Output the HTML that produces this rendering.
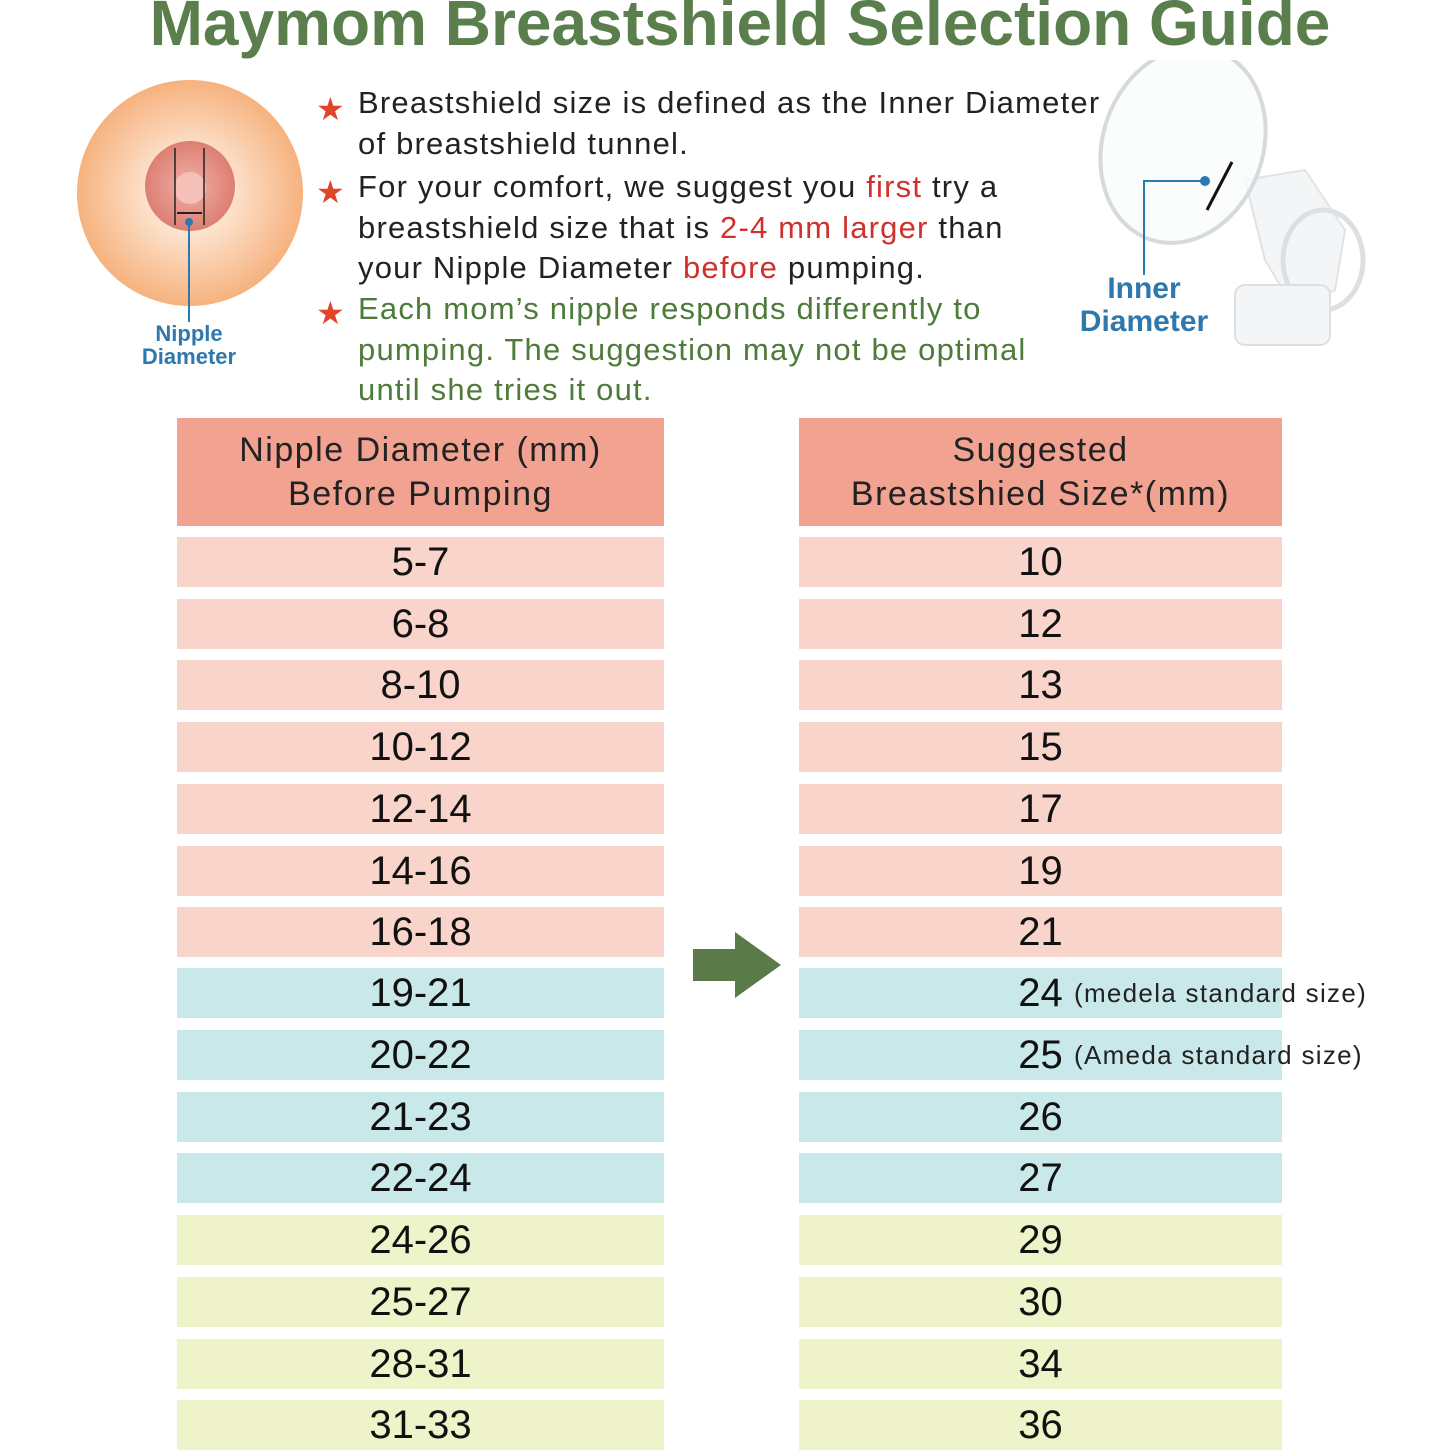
<!DOCTYPE html>
<html><head><style>
body{margin:0;width:1451px;height:1451px;background:#fff;position:relative;overflow:hidden;font-family:"Liberation Sans",sans-serif}
.a{position:absolute;white-space:nowrap}
.t{position:absolute;left:358px;font-size:31px;letter-spacing:1.2px;color:#222;line-height:40.5px;white-space:nowrap}
.r{color:#d0312d}.g{color:#4e7a3a}
.st{position:absolute;left:316px;color:#e0452a;font-size:32px}
.row{position:absolute;height:50px;display:flex;align-items:center;justify-content:center;font-size:40px;color:#111}
.L{left:177px;width:487px}.R{left:799px;width:483px}
.p{background:#f8d4ca}.b{background:#c9e8ea}.y{background:#eff3c9}
.h{position:absolute;top:418px;height:108px;background:#f2a291;font-size:34px;color:#222;text-align:center;line-height:44px;display:flex;align-items:center;justify-content:center;letter-spacing:1.5px}
.n{position:absolute;font-size:26px;color:#222;letter-spacing:1.3px}
</style></head><body>
<div class="a" style="left:0;width:1480px;text-align:center;top:-14px;font-size:64px;font-weight:bold;color:#5a7e4c">Maymom Breastshield Selection Guide</div>

<svg class="a" style="left:0;top:60px" width="320" height="330">
<defs><radialGradient id="sk"><stop offset="0.3" stop-color="#fde8d6"/><stop offset="1" stop-color="#f6b27e"/></radialGradient>
<radialGradient id="ar"><stop offset="0" stop-color="#f2b0a8"/><stop offset="1" stop-color="#dc7f72"/></radialGradient></defs>
<circle cx="190" cy="133" r="113" fill="url(#sk)"/>
<circle cx="190" cy="126" r="45" fill="url(#ar)"/>
<circle cx="190" cy="128" r="16" fill="#f5c0b8"/>
<line x1="175" y1="88" x2="175" y2="165" stroke="#222" stroke-width="1.5"/>
<line x1="204" y1="88" x2="204" y2="165" stroke="#222" stroke-width="1.5"/>
<line x1="177" y1="153" x2="202" y2="153" stroke="#222" stroke-width="2"/>
<circle cx="189" cy="162" r="4" fill="#2a7ab0"/>
<line x1="189" y1="162" x2="189" y2="262" stroke="#2a7ab0" stroke-width="2"/>
</svg>
<div class="a" style="left:137px;top:322px;width:104px;text-align:center;font-size:22px;font-weight:bold;color:#2f78ad;line-height:23px">Nipple<br>Diameter</div>

<div class="st" style="top:90px">★</div>
<div class="st" style="top:173px">★</div>
<div class="st" style="top:294px">★</div>
<div class="t" style="top:83px">Breastshield size is defined as the Inner Diameter<br>of breastshield tunnel.</div>
<div class="t" style="top:167px">For your comfort, we suggest you <span class="r">first</span> try a<br>breastshield size that is <span class="r">2-4 mm larger</span> than<br>your Nipple Diameter <span class="r">before</span> pumping.</div>
<div class="t g" style="top:289px">Each mom’s nipple responds differently to<br>pumping. The suggestion may not be optimal<br>until she tries it out.</div>

<svg class="a" style="left:1095px;top:60px" width="290" height="300">
<path d="M150 120 L210 110 L250 170 L240 230 L200 250 L170 200Z" fill="#f4f5f6" stroke="#e0e3e5" stroke-width="2"/>
<ellipse cx="228" cy="200" rx="40" ry="50" fill="none" stroke="#dde0e3" stroke-width="5"/>
<rect x="140" y="225" width="95" height="60" rx="10" fill="#f4f5f6" stroke="#dde0e3" stroke-width="2"/>
<ellipse cx="88" cy="85" rx="80" ry="100" transform="rotate(20 88 85)" fill="#fafbfb" fill-opacity="0.8" stroke="#d6dadd" stroke-width="4"/>
<line x1="112" y1="150" x2="137" y2="102" stroke="#111" stroke-width="3"/>
<circle cx="110" cy="121" r="5" fill="#2a7ab0"/>
<polyline points="110,121 49,121 49,215" fill="none" stroke="#2a7ab0" stroke-width="2"/>
</svg>
<div class="a" style="left:1074px;top:272px;width:140px;text-align:center;font-size:30px;font-weight:bold;color:#2f78ad;line-height:33px">Inner<br>Diameter</div>

<div class="h" style="left:177px;width:487px">Nipple Diameter (mm)<br>Before Pumping</div>
<div class="h" style="left:799px;width:483px">Suggested<br>Breastshied Size*(mm)</div>

<div class="row L p" style="top:537px">5-7</div><div class="row R p" style="top:537px">10</div>
<div class="row L p" style="top:599px">6-8</div><div class="row R p" style="top:599px">12</div>
<div class="row L p" style="top:660px">8-10</div><div class="row R p" style="top:660px">13</div>
<div class="row L p" style="top:722px">10-12</div><div class="row R p" style="top:722px">15</div>
<div class="row L p" style="top:784px">12-14</div><div class="row R p" style="top:784px">17</div>
<div class="row L p" style="top:846px">14-16</div><div class="row R p" style="top:846px">19</div>
<div class="row L p" style="top:907px">16-18</div><div class="row R p" style="top:907px">21</div>
<div class="row L b" style="top:968px">19-21</div><div class="row R b" style="top:968px">24</div>
<div class="row L b" style="top:1030px">20-22</div><div class="row R b" style="top:1030px">25</div>
<div class="row L b" style="top:1092px">21-23</div><div class="row R b" style="top:1092px">26</div>
<div class="row L b" style="top:1153px">22-24</div><div class="row R b" style="top:1153px">27</div>
<div class="row L y" style="top:1215px">24-26</div><div class="row R y" style="top:1215px">29</div>
<div class="row L y" style="top:1277px">25-27</div><div class="row R y" style="top:1277px">30</div>
<div class="row L y" style="top:1339px">28-31</div><div class="row R y" style="top:1339px">34</div>
<div class="row L y" style="top:1400px">31-33</div><div class="row R y" style="top:1400px">36</div>

<div class="n" style="left:1074px;top:978px">(medela standard size)</div>
<div class="n" style="left:1074px;top:1040px">(Ameda standard size)</div>

<svg class="a" style="left:693px;top:932px" width="90" height="68"><polygon points="0,17 42,17 42,0 88,33 42,66 42,49 0,49" fill="#5a7a4a"/></svg>
</body></html>
